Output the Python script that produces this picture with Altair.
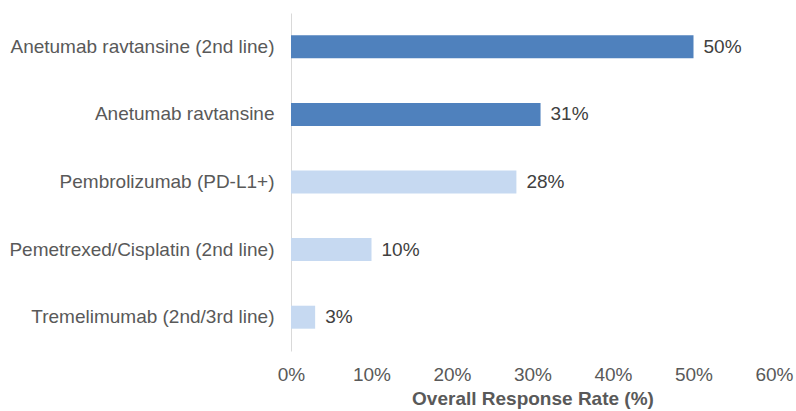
import altair as alt
import pandas as pd

# Overall response rate by treatment
treatments = [
    "Anetumab ravtansine (2nd line)",
    "Anetumab ravtansine\u00a0",
    "Pembrolizumab (PD-L1+)",
    "Pemetrexed/Cisplatin (2nd line)",
    "Tremelimumab (2nd/3rd line)",
]
response_rates = [50, 31, 28, 10, 3]
groups = ["Anetumab", "Anetumab", "Other", "Other", "Other"]

df = pd.DataFrame({
    "treatment": treatments,
    "rate": response_rates,
    "group": groups,
    "label": [f"{v}%" for v in response_rates],
})

FONT = "Liberation Sans"
GRAY = "#595959"
SIZE = 19

base = alt.Chart(df).encode(
    y=alt.Y(
        "treatment:N",
        sort=treatments,
        title=None,
        scale=alt.Scale(paddingInner=0.66, paddingOuter=0.33),
        axis=alt.Axis(
            domainColor="#D9D9D9",
            domainWidth=1,
            ticks=False,
            labelFont=FONT,
            labelFontSize=SIZE,
            labelColor=GRAY,
            labelPadding=17,
            labelLimit=400,
        ),
    ),
)

bars = base.mark_bar().encode(
    x=alt.X(
        "rate:Q",
        scale=alt.Scale(domain=[0, 60]),
        title="Overall Response Rate (%)",
        axis=alt.Axis(
            values=[0, 10, 20, 30, 40, 50, 60],
            labelExpr="datum.value + '%'",
            labelFlush=False,
            labelOverlap=False,
            domain=False,
            grid=False,
            ticks=False,
            labelFont=FONT,
            labelFontSize=SIZE,
            labelColor=GRAY,
            labelPadding=14,
            titleFont=FONT,
            titleFontSize=SIZE,
            titleFontWeight="bold",
            titleColor=GRAY,
            titlePadding=5,
        ),
    ),
    color=alt.Color(
        "group:N",
        scale=alt.Scale(domain=["Anetumab", "Other"], range=["#4F81BD", "#C6D9F1"]),
        legend=None,
    ),
)

labels = base.mark_text(
    align="left", baseline="middle", dx=10, font=FONT, fontSize=SIZE, color="#404040"
).encode(x="rate:Q", text="label:N")

chart = (
    (bars + labels)
    .properties(
        width=483,
        height=338,
        background="white",
        autosize=alt.AutoSizeParams(type="none"),
        padding={"left": 291, "top": 13, "right": 22, "bottom": 60},
    )
    .configure_view(strokeWidth=0, stroke="transparent")
)

chart.save("out.html", embed_options={"renderer": "svg", "actions": False})
